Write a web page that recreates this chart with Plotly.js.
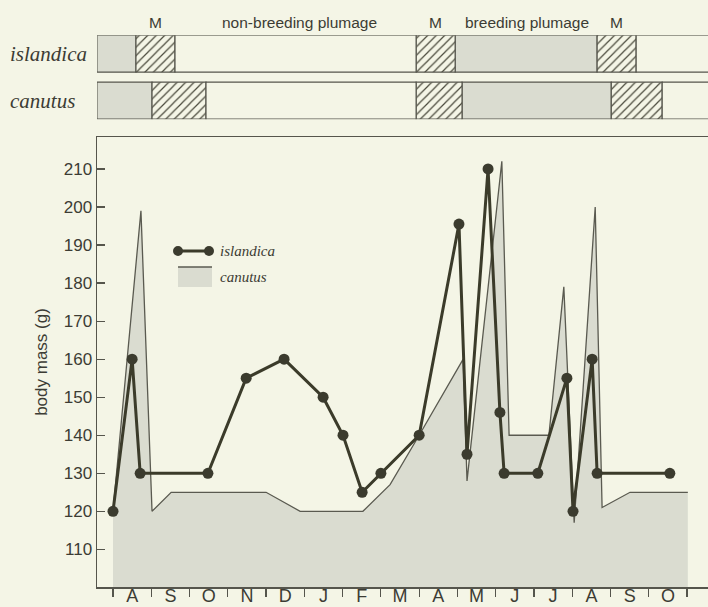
<!DOCTYPE html>
<html><head><meta charset="utf-8">
<script src="https://cdn.plot.ly/plotly-3.0.1.min.js"></script>
<style>html,body{margin:0;padding:0;background:#f4f5e6;} #chart{width:708px;height:607px;}</style>
</head><body><div id="chart"></div>
<script>
// month index 0 = start of August (year 1); labels sit between month boundaries
const monthLabels = ['A','S','O','N','D','J','F','M','A','M','J','J','A','S','O'];
const massTicks = [110,120,130,140,150,160,170,180,190,200,210];

const islandicaX = [0,0.50,0.71,2.48,3.48,4.47,5.49,6.01,6.51,7.00,8.00,9.04,9.25,9.80,10.11,10.22,11.10,11.86,12.02,12.52,12.65,14.55];
const islandicaY = [120,160,130,130,155,160,150,140,125,130,140,195.5,135,210,146,130,130,155,120,160,130,130];

const canutusX = [0,0.73,1.02,1.52,4.0,4.89,6.53,7.24,8.0,9.15,9.25,10.16,10.35,11.39,11.78,12.05,12.6,12.78,13.51,15.02];
const canutusY = [120,199,120,125,125,120,120,127,140,160,128,212,140,140,179,117,200,121,125,125];

// plumage phases (month units)
const islandicaPhaseStart = [-0.42,0.60,1.62,7.92,8.94,12.65,13.67];
const islandicaPhaseEnd   = [0.60,1.62,7.92,8.94,12.65,13.67,16];
const islandicaPhaseType  = ['breeding','moult','non-breeding','moult','breeding','moult','non-breeding'];
const canutusPhaseStart = [-0.42,1.02,2.43,7.92,9.12,13.02,14.35];
const canutusPhaseEnd   = [1.02,2.43,7.92,9.12,13.02,14.35,16];
const canutusPhaseType  = ['breeding','moult','non-breeding','moult','breeding','moult','non-breeding'];

const BG = '#f4f5e6', INK = '#3c3c34', GREY = '#dadcd0', AX = '#55554c';
const SANS = 'Liberation Sans, Arial, sans-serif';
const SERIF = 'Liberation Serif, Times New Roman, serif';

function phaseTraces(){
  const styles = {
    'breeding': {color: GREY},
    'moult': {color: BG, pattern: {shape: '/', fgcolor: '#4a4a3c', bgcolor: BG, size: 6, solidity: 0.2, fillmode: 'replace'}},
    'non-breeding': {color: BG}
  };
  const rows = [
    {name: 'islandica', s: islandicaPhaseStart, e: islandicaPhaseEnd, t: islandicaPhaseType},
    {name: 'canutus', s: canutusPhaseStart, e: canutusPhaseEnd, t: canutusPhaseType}
  ];
  const out = [];
  Object.keys(styles).forEach(type => {
    const y = [], base = [], len = [];
    rows.forEach(r => r.t.forEach((tt, i) => {
      if (tt === type){ y.push(r.name); base.push(r.s[i]); len.push(r.e[i] - r.s[i]); }
    }));
    const marker = Object.assign({line: {color: AX, width: 1.2}}, styles[type]);
    out.push({type: 'bar', orientation: 'h', y: y, base: base, x: len, width: 0.787,
      xaxis: 'x', yaxis: 'y2', marker: marker, hoverinfo: 'skip', showlegend: false});
  });
  return out;
}

const traces = phaseTraces().concat([
  {type: 'scatter', x: canutusX, y: canutusY, mode: 'lines', fill: 'tozeroy', fillcolor: GREY,
   line: {color: '#5a5a50', width: 1.3}, name: 'canutus', hoverinfo: 'skip'},
  {type: 'scatter', x: islandicaX, y: islandicaY, mode: 'lines+markers',
   line: {color: '#3b3b2a', width: 3}, marker: {size: 11, color: '#3b3b2e'}, name: 'islandica'}
]);

const tickPos = monthLabels.map((_, i) => i + 0.5);
const boundaries = monthLabels.map((_, i) => i).concat([monthLabels.length]);

function mid(i){ return (islandicaPhaseStart[i] + islandicaPhaseEnd[i]) / 2; }
const topY = 0.961;
const annFont = {family: SANS, size: 15.5, color: INK};
function topLabel(x, text){
  return {x: x, y: topY, xref: 'x', yref: 'paper', yanchor: 'middle', xanchor: 'center', text: text, showarrow: false, font: annFont};
}
const annotations = [
  topLabel(mid(1), 'M'),
  topLabel(4.87, 'non-breeding plumage'),
  topLabel(mid(3), 'M'),
  topLabel(10.82, 'breeding plumage'),
  topLabel(mid(5), 'M'),
  {x: -0.1457, y: 'islandica', xref: 'paper', yref: 'y2', xanchor: 'left', yanchor: 'middle', text: 'islandica', showarrow: false,
   font: {family: SERIF, size: 21, style: 'italic', color: INK}},
  {x: -0.1457, y: 'canutus', xref: 'paper', yref: 'y2', xanchor: 'left', yanchor: 'middle', text: 'canutus', showarrow: false,
   font: {family: SERIF, size: 21, style: 'italic', color: INK}},
  {x: 0.198, y: 0.5724, xref: 'paper', yref: 'paper', xanchor: 'left', yanchor: 'middle', text: 'islandica', showarrow: false,
   font: {family: SERIF, size: 15, style: 'italic', color: INK}},
  {x: 0.198, y: 0.528, xref: 'paper', yref: 'paper', xanchor: 'left', yanchor: 'middle', text: 'canutus', showarrow: false,
   font: {family: SERIF, size: 15, style: 'italic', color: INK}}
];

function dot(x, y){
  return {type: 'circle', xref: 'paper', yref: 'paper', xsizemode: 'pixel', ysizemode: 'pixel',
    xanchor: x, yanchor: y, x0: -5, x1: 5, y0: -5, y1: 5, fillcolor: '#3b3b2e', line: {width: 0}};
}
const shapes = [
  {type: 'rect', xref: 'paper', yref: 'paper', x0: 0.1326, x1: 0.1882, y0: 0.511, y1: 0.545,
   fillcolor: GREY, line: {width: 0}},
  {type: 'line', xref: 'paper', yref: 'paper', x0: 0.1326, x1: 0.1882, y0: 0.545, y1: 0.545,
   line: {color: '#5a5a50', width: 1.5}},
  {type: 'line', xref: 'paper', yref: 'paper', x0: 0.1326, x1: 0.1833, y0: 0.5724, y1: 0.5724,
   line: {color: '#3b3b2a', width: 3}},
  dot(0.1326, 0.5724), dot(0.1833, 0.5724)
];

const layout = {
  width: 708, height: 607,
  margin: {l: 97, r: 0, t: 0, b: 20},
  paper_bgcolor: BG, plot_bgcolor: BG,
  showlegend: false, barmode: 'overlay',
  xaxis: {
    range: [-0.418, 15.547], anchor: 'y',
    tickmode: 'array', tickvals: tickPos, ticktext: monthLabels, ticks: '',
    ticklabelstandoff: -8,
    tickfont: {family: SANS, size: 18, color: INK},
    showline: true, linecolor: AX, linewidth: 1.5, mirror: true,
    showgrid: false, zeroline: false,
    minor: {tickmode: 'array', tickvals: boundaries, ticks: 'outside', ticklen: 8, tickwidth: 1.2, tickcolor: AX, showgrid: false}
  },
  yaxis: {
    domain: [0, 0.7666], range: [100.1, 218.4],
    tickmode: 'array', tickvals: massTicks, ticks: 'inside', ticklen: 8, tickwidth: 1.2, tickcolor: AX,
    tickfont: {family: SANS, size: 17, color: INK},
    showline: true, linecolor: AX, linewidth: 1.5, showgrid: false, zeroline: false,
    title: {text: 'body mass (g)', font: {family: SANS, size: 17, color: INK}, standoff: 12}
  },
  yaxis2: {
    domain: [0.797, 0.940], anchor: 'x', type: 'category', categoryarray: ['canutus', 'islandica'],
    range: [-0.394, 1.394], showticklabels: false, showline: false, showgrid: false, zeroline: false, ticks: ''
  },
  annotations: annotations,
  shapes: shapes
};

Plotly.newPlot('chart', traces, layout, {displayModeBar: false, staticPlot: true});
</script>
</body></html>
